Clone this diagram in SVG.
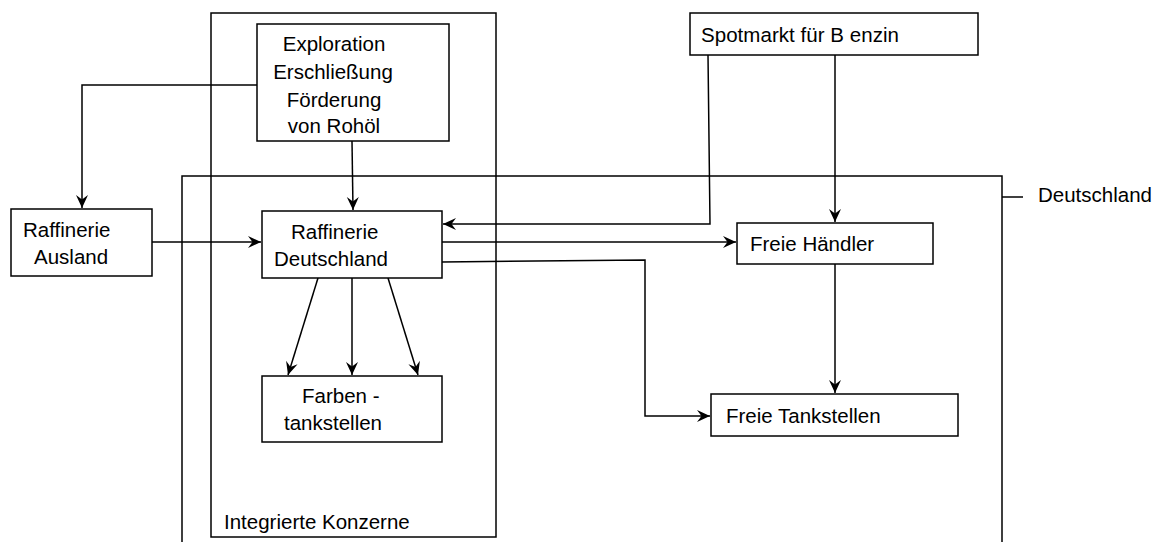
<svg xmlns="http://www.w3.org/2000/svg" width="1155" height="542" viewBox="0 0 1155 542">
<style>
.box{fill:#fff;stroke:#000;stroke-width:1.5}
.frame{fill:none;stroke:#000;stroke-width:1.5}
.t{font-family:"Liberation Sans",Arial,sans-serif;font-size:20.5px;fill:#000}
.c{fill:none;stroke:#000;stroke-width:1.5}
.a{marker-end:url(#arr)}
</style>
<defs>
<marker id="arr" markerUnits="userSpaceOnUse" markerWidth="16" markerHeight="14" viewBox="-15 -7 16 14" refX="0" refY="0" orient="auto">
<path d="M0,0 L-13,-6 L-8.5,0 L-13,6 Z" fill="#000"/>
</marker>
</defs>
<g id="deutschland">
<path class="frame" d="M182,560 L182,176 L1002,176 L1002,560"/>
<line class="c" x1="1002" y1="197" x2="1023" y2="197"/>
<text class="t" x="1038" y="202">Deutschland</text>
</g>
<g id="integrierte-konzerne">
<rect class="frame" x="211" y="13" width="285" height="524"/>
<text class="t" x="224" y="529">Integrierte Konzerne</text>
</g>
<g id="connectors">
<polyline class="c a" points="257,85 82,85 82,208"/>
<line class="c a" x1="352" y1="141" x2="353" y2="210"/>
<line class="c a" x1="152" y1="242" x2="261" y2="242"/>
<polyline class="c a" points="708,55 710,224 443,224"/>
<line class="c a" x1="442" y1="242" x2="736" y2="242"/>
<polyline class="c a" points="442,262 645,260 645,416 710,416"/>
<line class="c a" x1="835" y1="55" x2="835" y2="222"/>
<line class="c a" x1="835" y1="264" x2="835" y2="393"/>
<line class="c a" x1="318" y1="278" x2="288" y2="375"/>
<line class="c a" x1="352" y1="278" x2="352" y2="375"/>
<line class="c a" x1="388" y1="278" x2="418" y2="375"/>
</g>
<g id="exploration">
<rect class="box" x="257" y="24" width="192" height="117"/>
<text class="t" text-anchor="middle" x="334" y="51">Exploration</text>
<text class="t" text-anchor="middle" x="333" y="79">Erschließung</text>
<text class="t" text-anchor="middle" x="334" y="107">Förderung</text>
<text class="t" text-anchor="middle" x="334" y="133">von Rohöl</text>
</g>
<g id="raffinerie-ausland">
<rect class="box" x="11" y="209" width="141" height="67"/>
<text class="t" x="23" y="237">Raffinerie</text>
<text class="t" x="34" y="264">Ausland</text>
</g>
<g id="raffinerie-deutschland">
<rect class="box" x="262" y="211" width="180" height="67"/>
<text class="t" x="291" y="239">Raffinerie</text>
<text class="t" x="274" y="266">Deutschland</text>
</g>
<g id="farbentankstellen">
<rect class="box" x="262" y="376" width="180" height="66"/>
<text class="t" x="302" y="403">Farben -</text>
<text class="t" x="284" y="430">tankstellen</text>
</g>
<g id="spotmarkt">
<rect class="box" x="690" y="13" width="288" height="42"/>
<text class="t" x="701" y="42" textLength="198">Spotmarkt für B enzin</text>
</g>
<g id="freie-haendler">
<rect class="box" x="737" y="223" width="196" height="41"/>
<text class="t" x="750" y="251">Freie Händler</text>
</g>
<g id="freie-tankstellen">
<rect class="box" x="711" y="394" width="247" height="42"/>
<text class="t" x="726" y="423">Freie Tankstellen</text>
</g>
</svg>
